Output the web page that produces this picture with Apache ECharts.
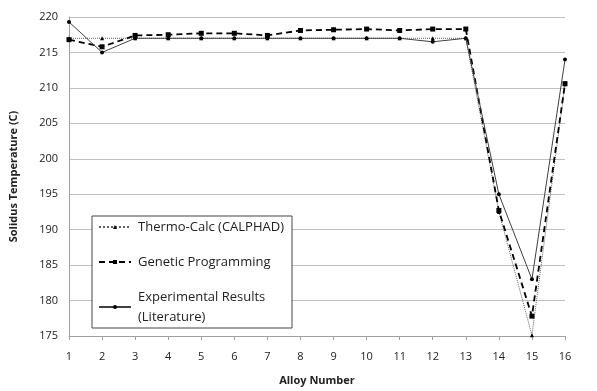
<!DOCTYPE html>
<html><head><meta charset="utf-8">
<script src="https://cdn.jsdelivr.net/npm/echarts@6/dist/echarts.min.js"></script>
<style>html,body{margin:0;padding:0;background:#fff}#c{width:597px;height:391px}</style>
</head><body><div id="c"></div>
<script>
const categories = ['1','2','3','4','5','6','7','8','9','10','11','12','13','14','15','16'];
const thermoCalc = [217.0,217.0,217.0,217.0,217.0,217.0,217.0,217.0,217.0,217.0,217.0,217.0,217.0,192.5,175.1,210.5];
const geneticProg = [216.8,215.8,217.4,217.5,217.7,217.7,217.4,218.1,218.2,218.3,218.1,218.3,218.3,192.7,177.8,210.6];
const experimental = [219.3,215.0,217.0,217.0,217.0,217.0,217.0,217.0,217.0,217.0,217.0,216.5,217.0,195.0,183.0,214.0];
const seriesNames = ['Thermo-Calc (CALPHAD)','Genetic Programming','Experimental Results\n(Literature)'];
const font = 'Open Sans, Lato, sans-serif';
const chart = echarts.init(document.getElementById('c'));
chart.setOption({
  animation:false,
  grid:{left:69,right:32,top:17,bottom:53},
  xAxis:{type:'category',data:categories,boundaryGap:false,
    name:'Alloy Number',nameLocation:'middle',nameGap:39,
    nameTextStyle:{fontFamily:font,fontWeight:'bold',fontSize:11,color:'#222'},
    axisLine:{lineStyle:{color:'#a0a0a0'}},
    axisTick:{show:true,alignWithLabel:true,length:4,lineStyle:{color:'#a0a0a0'}},
    axisLabel:{fontFamily:font,fontSize:11,color:'#222',margin:15},
    splitLine:{show:false}},
  yAxis:{type:'value',min:175,max:220,interval:5,
    name:'Solidus Temperature (C)',nameLocation:'middle',nameGap:50,nameRotate:90,
    nameTextStyle:{fontFamily:font,fontWeight:'bold',fontSize:11,color:'#222'},
    axisLine:{show:true,lineStyle:{color:'#a0a0a0'}},
    axisTick:{show:false},
    axisLabel:{fontFamily:font,fontSize:11,color:'#222',margin:11},
    splitLine:{lineStyle:{color:'#c0c0c0'}}},
  legend:{orient:'vertical',left:92,top:216,width:205,
    backgroundColor:'#fff',borderColor:'#444',borderWidth:1,
    padding:[1,8,1,6],itemGap:15,itemWidth:32,itemHeight:5,
    textStyle:{fontFamily:font,fontSize:13,color:'#222',lineHeight:20,padding:[0,0,0,2]},
    data:seriesNames},
  series:[
    {name:seriesNames[0],type:'line',data:thermoCalc,symbol:'triangle',symbolSize:4,
      lineStyle:{color:'#606060',width:1,type:'dotted'},itemStyle:{color:'#000'}},
    {name:seriesNames[1],type:'line',data:geneticProg,symbol:'rect',symbolSize:5,
      lineStyle:{color:'#000',width:1.8,type:[6,4]},itemStyle:{color:'#000'}},
    {name:seriesNames[2],type:'line',data:experimental,symbol:'circle',symbolSize:4,
      lineStyle:{color:'#404040',width:1},itemStyle:{color:'#000'}}
  ]
});
</script></body></html>
